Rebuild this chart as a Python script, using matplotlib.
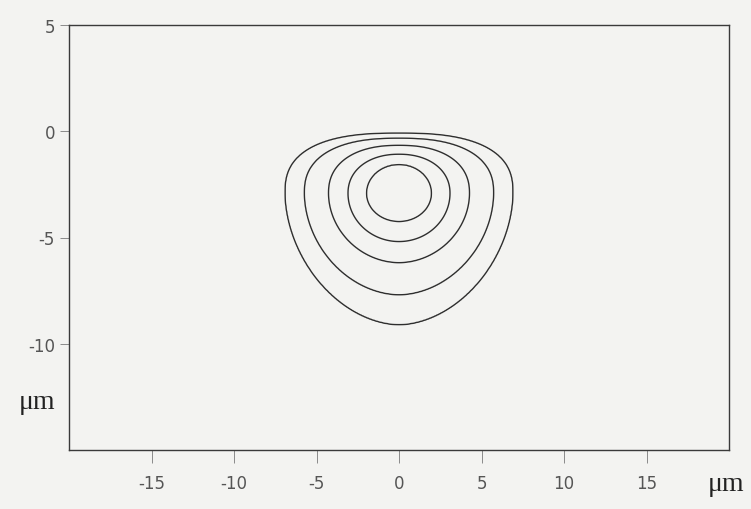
import numpy as np
import matplotlib.pyplot as plt

# contour levels and their extents (um, from the peak)
levels = [0.1, 0.2, 0.4, 0.6, 0.8]
half_width = [6.9, 5.73, 4.27, 3.09, 1.97]
extent_up = [2.83, 2.59, 2.26, 1.84, 1.36]
extent_down = [6.18, 4.77, 3.26, 2.27, 1.33]
shape_up = [2.6, 2.45, 2.3, 2.15, 2.0]       # outer tops are flattened
shape_down = [1.85, 1.9, 1.95, 2.0, 2.0]
peak = [0.0, -2.92]

x_ticks = [-15, -10, -5, 0, 5, 10, 15]
y_ticks = [-10, -5, 0, 5]

plt.rcParams['axes.unicode_minus'] = False

# build a field whose iso-lines pass through the read extents
lv = np.r_[0.0, levels, 1.0]
aw = np.r_[9.5, half_width, 1e-3]
au = np.r_[3.2, extent_up, 1e-3]
ad = np.r_[9.5, extent_down, 1e-3]
nu = np.r_[shape_up[0], shape_up, shape_up[-1]]
nd = np.r_[shape_down[0], shape_down, shape_down[-1]]

x = np.linspace(-20, 20, 801)
y = np.linspace(-15, 5, 401)
X, Y = np.meshgrid(x, y)
dx = np.abs(X - peak[0])
dy = Y - peak[1]
up = dy >= 0

lo = np.zeros_like(X)
hi = np.ones_like(X)
for _ in range(40):
    mid = (lo + hi) / 2
    a = np.interp(mid, lv, aw)
    e = np.where(up, np.interp(mid, lv, au), np.interp(mid, lv, ad))
    n = np.where(up, np.interp(mid, lv, nu), np.interp(mid, lv, nd))
    F = (dx / a) ** n + (np.abs(dy) / e) ** n
    inside = F <= 1
    lo = np.where(inside, mid, lo)
    hi = np.where(inside, hi, mid)
Z = lo

bg = '#f3f3f1'
fig = plt.figure(figsize=(7.51, 5.10), dpi=100, facecolor=bg)
ax = fig.add_axes([69 / 751, 1 - 451 / 510, 660 / 751, 425 / 510])
ax.set_facecolor(bg)

ax.contour(X, Y, Z, levels=levels, colors='#2e2e2e', linewidths=1.0)

ax.set_xlim(-20, 20)
ax.set_ylim(-15, 5)
ax.set_xticks(x_ticks)
ax.set_yticks(y_ticks)

for s in ax.spines.values():
    s.set_color('#3a3a3a')
    s.set_linewidth(1.0)

ax.tick_params(axis='x', direction='out', length=9.5, width=0.7, color='#8a8a8a',
               pad=8, labelsize=12, labelcolor='#555555')
ax.tick_params(axis='y', direction='out', length=6.5, width=0.7, color='#8a8a8a',
               pad=3.5, labelsize=12, labelcolor='#555555')

ax.text(-0.048, 0.115, 'μm', transform=ax.transAxes, ha='center', va='center',
        fontsize=20, family='Liberation Serif', color='#222222')
ax.text(0.995, -0.08, 'μm', transform=ax.transAxes, ha='center', va='center',
        fontsize=20, family='Liberation Serif', color='#222222')

plt.savefig('out.png', dpi=100, facecolor=bg)
